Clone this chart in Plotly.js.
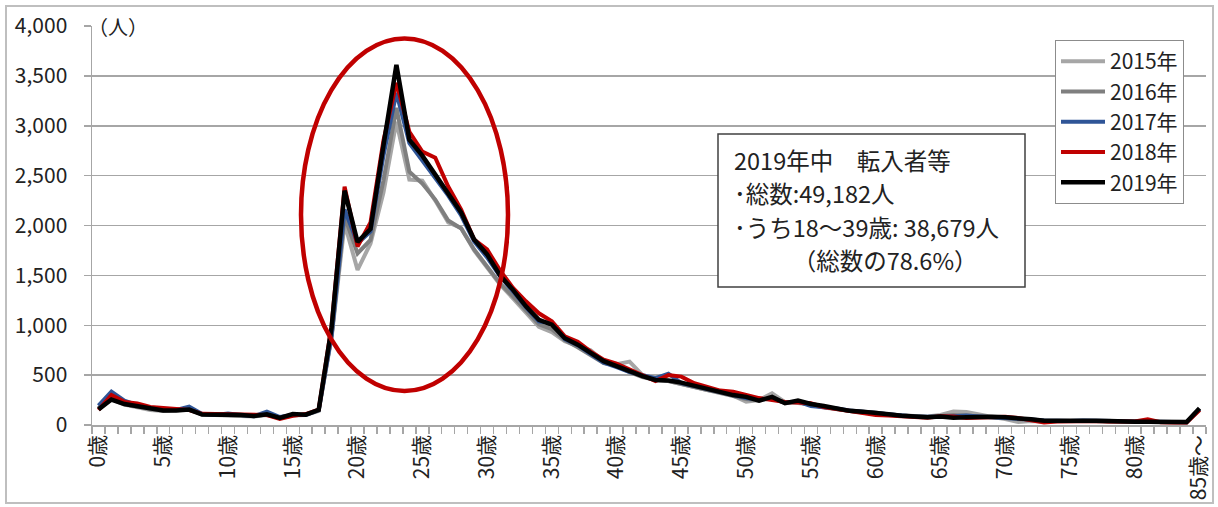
<!DOCTYPE html>
<html>
<head>
<meta charset="utf-8">
<script src="https://cdn.plot.ly/plotly-3.0.1.min.js"></script>
<style>
html,body{margin:0;padding:0;background:#fff;}
#chart{width:1218px;height:507px;}
</style>
</head>
<body>
<div id="chart"></div>
<script>
// Categories: ages 0..84 and 85+
const categories = ['0歳','1歳','2歳','3歳','4歳','5歳','6歳','7歳','8歳','9歳',
'10歳','11歳','12歳','13歳','14歳','15歳','16歳','17歳','18歳','19歳',
'20歳','21歳','22歳','23歳','24歳','25歳','26歳','27歳','28歳','29歳',
'30歳','31歳','32歳','33歳','34歳','35歳','36歳','37歳','38歳','39歳',
'40歳','41歳','42歳','43歳','44歳','45歳','46歳','47歳','48歳','49歳',
'50歳','51歳','52歳','53歳','54歳','55歳','56歳','57歳','58歳','59歳',
'60歳','61歳','62歳','63歳','64歳','65歳','66歳','67歳','68歳','69歳',
'70歳','71歳','72歳','73歳','74歳','75歳','76歳','77歳','78歳','79歳',
'80歳','81歳','82歳','83歳','84歳','85歳～'];

// Tick labels shown on the x axis
const tickLabels = ['0歳','5歳','10歳','15歳','20歳','25歳','30歳','35歳','40歳','45歳',
'50歳','55歳','60歳','65歳','70歳','75歳','80歳','85歳～'];

const seriesNames = ['2015年','2016年','2017年','2018年','2019年'];

const y2015 = [165,260,205,175,150,140,150,155,105,100,
100,95,85,100,70,95,100,140,880,2020,
1555,1820,2330,3040,2460,2450,2250,2030,1975,1750,
1580,1410,1270,1120,985,930,840,790,750,640,
610,635,500,470,440,400,380,350,330,295,
234,250,318,230,220,205,175,160,140,125,
120,100,95,90,85,100,134,130,100,80,
60,30,40,35,38,40,40,38,35,30,
30,30,28,25,25,150];

const y2016 = [170,270,210,180,160,145,150,160,110,105,
105,100,90,105,75,100,105,145,900,2090,
1720,1855,2450,3180,2540,2420,2260,2050,1970,1760,
1590,1420,1290,1150,1010,960,850,780,700,620,
600,530,480,450,440,410,385,355,320,290,
260,245,270,220,230,200,185,160,140,130,
125,105,95,88,80,90,100,95,85,80,
70,55,50,42,40,42,40,40,35,32,
30,30,28,28,28,155];

const y2017 = [195,335,245,200,170,155,150,185,110,100,
115,100,88,135,80,100,100,150,900,2160,
1820,1940,2700,3330,2825,2650,2480,2300,2100,1840,
1680,1490,1340,1180,1040,1020,860,800,710,625,
580,530,500,470,515,420,390,360,330,295,
270,255,265,225,235,190,180,165,145,130,
120,110,95,85,80,82,88,95,85,80,
75,65,55,45,40,40,45,42,38,35,
32,35,30,28,28,160];

const y2018 = [150,300,232,215,180,167,160,150,112,108,
110,105,95,100,62,92,110,155,1000,2390,
1790,2030,2850,3430,2940,2740,2680,2390,2160,1860,
1760,1550,1375,1240,1120,1040,890,835,735,655,
615,560,500,440,500,485,418,384,345,334,
300,270,251,230,225,218,180,160,150,125,
100,95,85,80,72,88,85,70,75,80,
82,70,50,25,35,40,42,40,35,30,
35,57,28,25,25,150];

const y2019 = [157,255,210,185,160,145,145,155,105,105,
105,100,90,107,72,110,104,152,980,2350,
1835,1965,2800,3610,2860,2700,2510,2320,2130,1860,
1710,1500,1355,1190,1055,1005,870,805,720,640,
590,535,490,452,445,425,395,358,325,300,
282,245,282,218,244,210,190,167,142,134,
124,107,92,85,78,85,72,77,84,82,
77,72,57,43,40,43,43,42,40,33,
33,33,30,30,30,168];

const seriesValues = [y2015, y2016, y2017, y2018, y2019];
const seriesColors = ['#A6A6A6', '#7F7F7F', '#2F5597', '#C00000', '#000000'];
const seriesWidths = [4, 4, 4, 4, 4.5];

const boxLines = ['2019年中　転入者等', '･総数:49,182人', '･うち18～39歳: 38,679人', '　　　（総数の78.6%）'];

const FONT = '"Noto Sans CJK JP", "Noto Sans", sans-serif';

// x tick text: show label only at labelled categories
const tickText = categories.map(c => tickLabels.includes(c) ? c : '');

const traces = seriesNames.map((name, k) => ({
  type: 'scatter',
  mode: 'lines',
  name: name,
  x: categories,
  y: seriesValues[k],
  line: {color: seriesColors[k], width: seriesWidths[k]},
  legendgroup: 'g' + k,
  hoverinfo: 'x+y+name'
}));

// plot area in pixels: left 92, right 1206, top 26, bottom 425
const L = 92, R = 1206, T = 26, B = 425;
const px = v => (v - L) / (R - L);
const py = v => (B - v) / (B - T);

// text box lines (pixel rows of the reference)
const boxRows = [160, 193, 227, 260];
const boxAnnotations = boxLines.map((t, k) => ({
  xref: 'paper', yref: 'paper', x: px(732), y: py(boxRows[k]),
  xanchor: 'left', yanchor: 'middle',
  text: t, align: 'left', showarrow: false,
  font: {family: FONT, size: 23.5, color: '#222222'}
}));

const layout = {
  width: 1218,
  height: 507,
  margin: {l: L, r: 1218 - R, t: T, b: 507 - B, pad: 0},
  paper_bgcolor: '#ffffff',
  plot_bgcolor: '#ffffff',
  font: {family: FONT, color: '#222222', size: 20},
  showlegend: true,
  legend: {
    x: px(1055), y: py(40), xanchor: 'left', yanchor: 'top',
    bgcolor: '#ffffff', bordercolor: '#8C8C8C', borderwidth: 1,
    font: {family: FONT, size: 21, color: '#222222'},
    tracegroupgap: 0,
    itemwidth: 44
  },
  xaxis: {
    type: 'category',
    categoryorder: 'array',
    categoryarray: categories,
    range: [-0.5, categories.length - 0.5],
    tickmode: 'array',
    tickvals: categories,
    ticktext: tickText,
    tickson: 'boundaries',
    ticks: 'outside',
    ticklen: 7,
    tickwidth: 1.5,
    tickcolor: '#A6A6A6',
    tickangle: -90,
    tickfont: {family: FONT, size: 21, color: '#222222'},
    showline: true,
    linecolor: '#A6A6A6',
    linewidth: 1.5,
    showgrid: false,
    zeroline: false,
    fixedrange: true
  },
  yaxis: {
    range: [0, 4000],
    dtick: 500,
    tick0: 0,
    tickformat: ',d',
    ticks: 'outside',
    ticklen: 7,
    tickwidth: 1.5,
    tickcolor: '#A6A6A6',
    ticklabelstandoff: 12,
    tickfont: {family: FONT, size: 21, color: '#222222'},
    showgrid: true,
    gridcolor: '#A6A6A6',
    gridwidth: 1.5,
    showline: true,
    linecolor: '#A6A6A6',
    linewidth: 1.5,
    zeroline: false,
    fixedrange: true
  },
  annotations: [
    {
      xref: 'paper', yref: 'paper', x: 0, y: 1,
      xanchor: 'left', yanchor: 'middle', xshift: -6,
      text: '（人）', showarrow: false,
      font: {family: FONT, size: 20, color: '#222222'}
    }
  ].concat(boxAnnotations),
  shapes: [
    {
      type: 'rect', xref: 'paper', yref: 'paper',
      x0: px(718), x1: px(1025), y0: py(287), y1: py(134),
      fillcolor: '#ffffff',
      line: {color: '#404040', width: 1.5}, layer: 'above'
    },
    {
      type: 'circle', xref: 'paper', yref: 'paper',
      x0: px(301), x1: px(508), y0: py(391), y1: py(38.5),
      line: {color: '#C00000', width: 4.5}, layer: 'above'
    },
    {
      type: 'rect', xref: 'paper', yref: 'paper',
      x0: px(6), x1: px(1213), y0: py(503), y1: py(6),
      line: {color: '#BFBFBF', width: 2}, layer: 'below'
    }
  ]
};

Plotly.newPlot('chart', traces, layout, {displayModeBar: false, staticPlot: true});
</script>
</body>
</html>
